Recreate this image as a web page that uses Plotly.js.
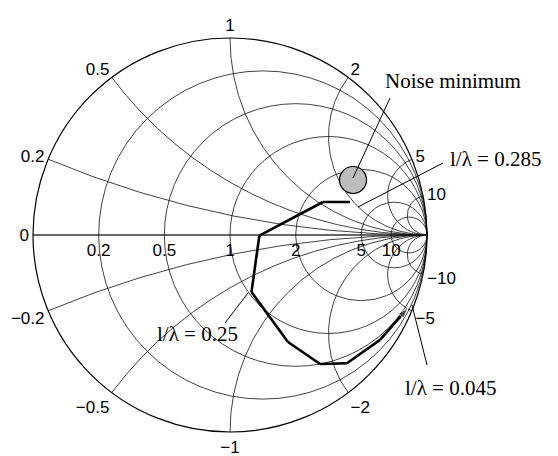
<!DOCTYPE html>
<html><head><meta charset="utf-8">
<script src="https://cdn.plot.ly/plotly-3.0.1.min.js"></script>
<style>html,body{margin:0;padding:0;background:#fff}</style>
</head><body><div id="chart" style="width:558px;height:456px"></div>
<script>
// grid values of the Smith chart
const realTicks = [0.2, 0.5, 1, 2, 5, 10];
const imagTicks = [-10, -5, -2, -1, -0.5, -0.2, 0, 0.2, 0.5, 1, 2, 5, 10];
// impedance locus (normalized z = r + jx)
const locusReal = [3.32, 2.44, 1.35, 1.03, 0.78, 0.50, 0.38, 0.40, 0.32];
const locusImag = [1.85, 1.09, -0.01, -0.66, -1.37, -1.81, -2.21, -3.13, -5.06];
// noise minimum
const noiseReal = [2.43];
const noiseImag = [2.55];
// labels
const labelTexts = ['Noise minimum', 'l/λ = 0.285', 'l/λ = 0.25', 'l/λ = 0.045'];

const M = {l: 33, r: 131, t: 38, b: 24};
const W = 558, H = 456, PW = W - M.l - M.r, PH = H - M.t - M.b;
const fx = p => (p - M.l) / PW;
const fy = p => 1 - (p - M.t) / PH;

const labelPos = [[383, 81], [448, 159], [155, 334], [403, 388]];
const leaders = [[353, 178, 390, 98], [358, 207, 443, 163], [225, 323, 248, 293], [412, 305, 427, 365]];

const n = locusReal.length;
const traces = [
  {type: 'scattersmith', real: locusReal, imag: locusImag, mode: 'lines+markers',
   line: {color: '#000', width: 2.6},
   marker: {symbol: locusReal.map((v, i) => i === n - 1 ? 'arrow' : 'circle'),
            size: locusReal.map((v, i) => i === n - 1 ? 11 : 0),
            angleref: 'previous', color: '#000'},
   showlegend: false, hoverinfo: 'skip'},
  {type: 'scattersmith', real: noiseReal, imag: noiseImag, mode: 'markers',
   marker: {symbol: 'circle', size: 27, color: '#bdbdbd', line: {color: '#000', width: 1.2}},
   showlegend: false, hoverinfo: 'skip'}
];

const tickFont = {family: 'Liberation Sans, Arial, sans-serif', size: 17, color: '#000'};
const layout = {
  width: W, height: H, margin: M,
  paper_bgcolor: '#fff', showlegend: false,
  font: {family: 'Liberation Sans, Arial, sans-serif', size: 17, color: '#000'},
  smith: {
    bgcolor: '#fff',
    domain: {x: [0, 1], y: [0, 1]},
    realaxis: {tickvals: realTicks, side: 'bottom', tickangle: 0, ticks: '',
               gridcolor: '#111', gridwidth: 0.8, linecolor: '#111', linewidth: 0.8,
               tickfont: tickFont},
    imaginaryaxis: {tickvals: imagTicks, ticks: '',
               gridcolor: '#111', gridwidth: 0.8, linecolor: '#000', linewidth: 1.2,
               tickfont: tickFont}
  },
  shapes: leaders.map(s => ({type: 'line', xref: 'paper', yref: 'paper',
    x0: fx(s[0]), y0: fy(s[1]), x1: fx(s[2]), y1: fy(s[3]),
    line: {color: '#000', width: 1}})).concat([
    {type: 'rect', xref: 'paper', yref: 'paper', layer: 'above',
     x0: fx(431), x1: fx(454), y0: fy(245), y1: fy(225),
     fillcolor: '#fff', line: {width: 0}}]),
  annotations: labelTexts.map((t, i) => ({text: t, xref: 'paper', yref: 'paper',
    x: fx(labelPos[i][0]), y: fy(labelPos[i][1]), xanchor: 'left', yanchor: 'middle',
    showarrow: false, font: {family: 'Liberation Serif, Times New Roman, serif', size: 21, color: '#000'}}))
};

Plotly.newPlot('chart', traces, layout, {displayModeBar: false, staticPlot: true});
</script></body></html>
